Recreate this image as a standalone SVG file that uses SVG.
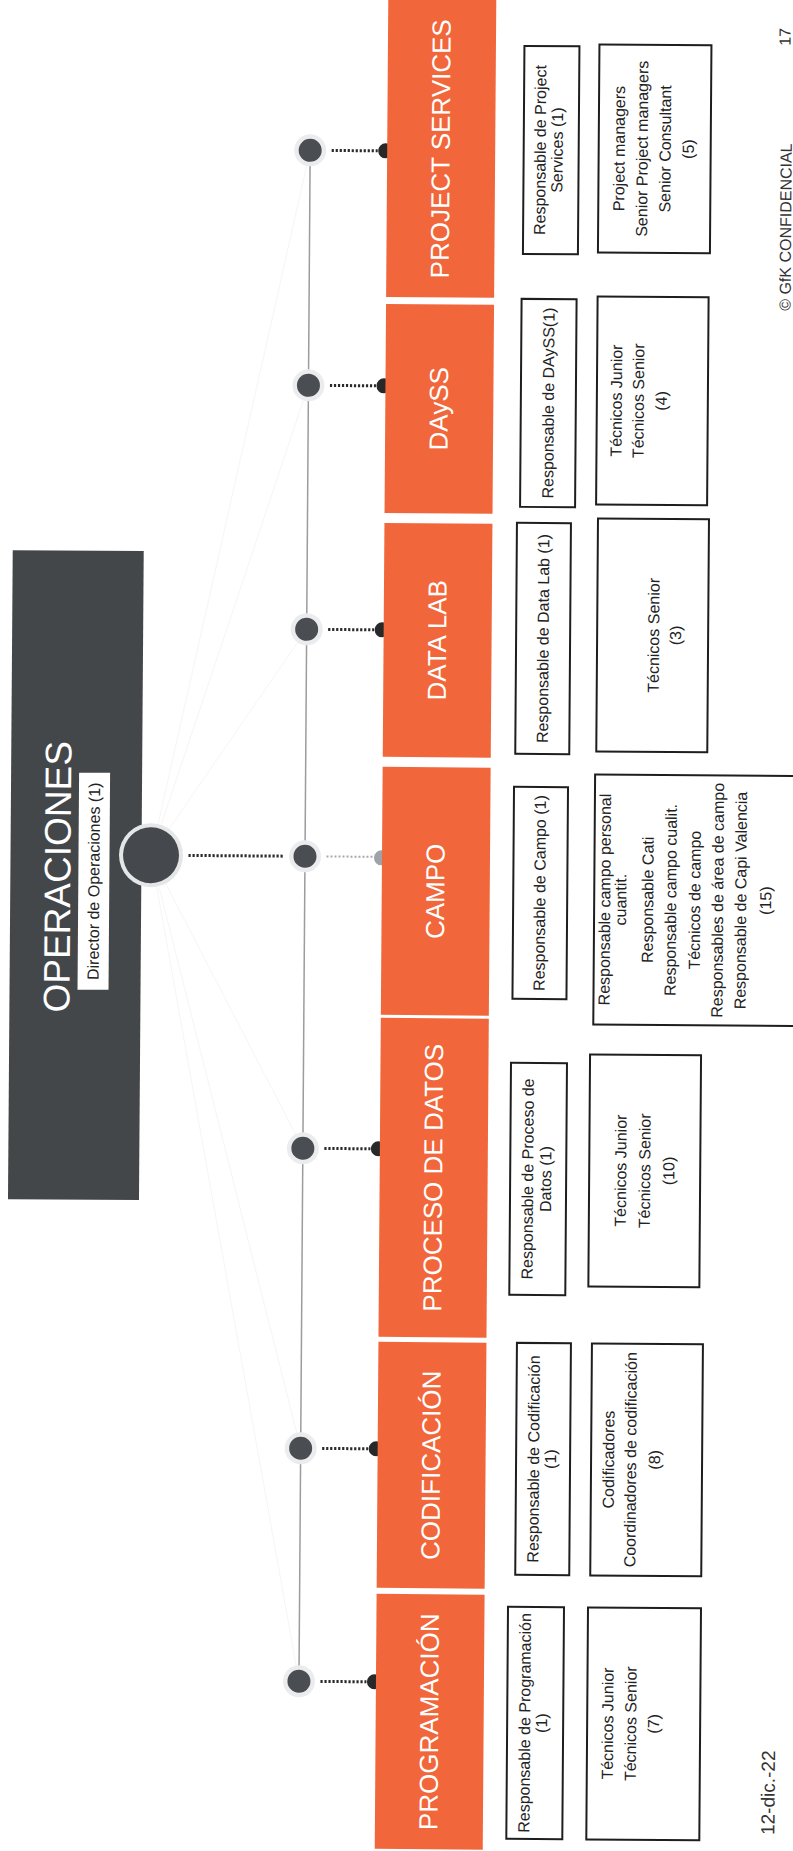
<svg xmlns="http://www.w3.org/2000/svg" width="793" height="1851" viewBox="0 0 793 1851">
<style>
.bar{fill:#f1673b}
.bl{font-family:"Liberation Sans",Arial,sans-serif;font-size:26px;fill:#ffffff;text-anchor:middle}
.box{fill:#ffffff;stroke:#1e1e1e;stroke-width:2}
.bt{font-family:"Liberation Sans",Arial,sans-serif;font-size:16px;fill:#222222;text-anchor:middle}
.dl{fill:none;stroke:#2a2a2a;stroke-width:3;stroke-dasharray:2.2 1.8}
.dlg{fill:none;stroke:#a4a9ae;stroke-width:2;stroke-dasharray:2 2}
.halo{fill:#eaecee}
.node{fill:#4a4d51}
.end{fill:#26282a}
.fan{stroke:#f3f3f3;stroke-width:0.8;fill:none}
.foot{font-family:"Liberation Sans",Arial,sans-serif;fill:#333333}
</style>
<rect x="0" y="0" width="793" height="1851" fill="#ffffff"/>
<g transform="rotate(0.42 400 925)">
  <g id="connectors">
    <line class="fan" x1="150.5" y1="857" x2="304.5" y2="151"/>
    <line class="fan" x1="150.5" y1="857" x2="304.5" y2="386"/>
    <line class="fan" x1="150.5" y1="857" x2="304.5" y2="630"/>
    <line class="fan" x1="150.5" y1="857" x2="304.5" y2="1149"/>
    <line class="fan" x1="150.5" y1="857" x2="304.5" y2="1449"/>
    <line class="fan" x1="150.5" y1="857" x2="304.5" y2="1682"/>
    <line x1="304.5" y1="151" x2="304.5" y2="1682" stroke="#9c9c9c" stroke-width="1.5"/>
    <line class="dl" x1="188" y1="857" x2="284" y2="857" stroke-width="3.5"/>
    <line class="dl" x1="326" y1="151" x2="372" y2="151"/>
    <line class="dl" x1="326" y1="386" x2="372" y2="386"/>
    <line class="dl" x1="326" y1="630" x2="372" y2="630"/>
    <line class="dlg" x1="326" y1="857" x2="372" y2="857"/>
    <line class="dl" x1="326" y1="1149" x2="372" y2="1149"/>
    <line class="dl" x1="326" y1="1449" x2="372" y2="1449"/>
    <line class="dl" x1="326" y1="1682" x2="372" y2="1682"/>
  </g>

  <g id="operaciones">
    <rect x="10" y="553" width="131" height="649" fill="#44474a"/>
    <text transform="translate(70,1015) rotate(-90)" font-family="'Liberation Sans',Arial,sans-serif" font-size="37" fill="#ffffff">OPERACIONES</text>
    <rect x="78" y="775" width="31" height="217" fill="#ffffff"/>
    <text class="bt" transform="translate(99,883.5) rotate(-90)" fill="#111111">Director de Operaciones (1)</text>
    <circle cx="150.5" cy="857" r="32" fill="#e4e6e8"/>
    <circle cx="150.5" cy="857" r="28" fill="#45484c"/>
  </g>

  <g id="nodes">
    <g id="n-ps"><circle class="halo" cx="304.5" cy="151" r="16"/><circle class="node" cx="304.5" cy="151" r="11.5"/><circle class="end" cx="380" cy="151" r="7.5"/></g>
    <g id="n-dayss"><circle class="halo" cx="304.5" cy="386" r="16"/><circle class="node" cx="304.5" cy="386" r="11.5"/><circle class="end" cx="380" cy="386" r="7.5"/></g>
    <g id="n-datalab"><circle class="halo" cx="304.5" cy="630" r="16"/><circle class="node" cx="304.5" cy="630" r="11.5"/><circle class="end" cx="380" cy="630" r="7.5"/></g>
    <g id="n-campo"><circle class="halo" cx="304.5" cy="857" r="16"/><circle class="node" cx="304.5" cy="857" r="11.5"/><circle cx="381" cy="858" r="7.5" fill="#9da3a9"/></g>
    <g id="n-proceso"><circle class="halo" cx="304.5" cy="1149" r="16"/><circle class="node" cx="304.5" cy="1149" r="11.5"/><circle class="end" cx="380" cy="1149" r="7.5"/></g>
    <g id="n-codif"><circle class="halo" cx="304.5" cy="1449" r="16"/><circle class="node" cx="304.5" cy="1449" r="11.5"/><circle class="end" cx="380" cy="1449" r="7.5"/></g>
    <g id="n-prog"><circle class="halo" cx="304.5" cy="1682" r="16"/><circle class="node" cx="304.5" cy="1682" r="11.5"/><circle class="end" cx="380" cy="1682" r="7.5"/></g>
  </g>

  <g id="project-services">
    <rect class="bar" x="381.5" y="-6" width="108" height="303"/>
    <text class="bl" transform="translate(381.5,148.5) rotate(-90)" y="62.5">PROJECT SERVICES</text>
    <rect class="box" x="518" y="45" width="55" height="208"/>
    <text class="bt" transform="translate(518,149) rotate(-90)"><tspan x="0" y="22">Responsable de Project</tspan><tspan x="0" y="39">Services (1)</tspan></text>
    <rect class="box" x="593" y="43" width="112" height="208"/>
    <text class="bt" transform="translate(593,147) rotate(-90)"><tspan x="0" y="26">Project managers</tspan><tspan x="0" y="49">Senior Project managers</tspan><tspan x="0" y="72">Senior Consultant</tspan><tspan x="0" y="95">(5)</tspan></text>
  </g>

  <g id="dayss">
    <rect class="bar" x="381.5" y="304" width="108" height="209"/>
    <text class="bl" transform="translate(381.5,408.5) rotate(-90)" y="62.5">DAySS</text>
    <rect class="box" x="517" y="298" width="55" height="208"/>
    <text class="bt" transform="translate(517,402) rotate(-90)" y="33">Responsable de DAySS(1)</text>
    <rect class="box" x="593" y="295" width="111" height="208"/>
    <text class="bt" transform="translate(593,399) rotate(-90)"><tspan x="0" y="25">Técnicos Junior</tspan><tspan x="0" y="47">Técnicos Senior</tspan><tspan x="0" y="70">(4)</tspan></text>
  </g>

  <g id="data-lab">
    <rect class="bar" x="381.5" y="523" width="108" height="234"/>
    <text class="bl" transform="translate(381.5,640) rotate(-90)" y="62.5">DATA LAB</text>
    <rect class="box" x="514" y="522" width="54" height="231"/>
    <text class="bt" transform="translate(514,637.5) rotate(-90)" y="32.5">Responsable de Data Lab (1)</text>
    <rect class="box" x="595" y="517" width="111" height="233"/>
    <text class="bt" transform="translate(595,633.5) rotate(-90)"><tspan x="0" y="62">Técnicos Senior</tspan><tspan x="0" y="84">(3)</tspan></text>
  </g>

  <g id="campo">
    <rect class="bar" x="381.5" y="767" width="108" height="248"/>
    <text class="bl" transform="translate(381.5,891) rotate(-90)" y="62.5">CAMPO</text>
    <rect class="box" x="513" y="786" width="54" height="212"/>
    <text class="bt" transform="translate(513,892) rotate(-90)" y="32">Responsable de Campo (1)</text>
    <rect class="box" x="594" y="773" width="240" height="250"/>
    <text class="bt" transform="translate(594,898) rotate(-90)"><tspan x="0" y="16">Responsable campo personal</tspan><tspan x="0" y="32">cuantit.</tspan><tspan x="0" y="59">Responsable Cati</tspan><tspan x="0" y="82">Responsable campo cualit.</tspan><tspan x="0" y="106">Técnicos de campo</tspan><tspan x="0" y="129">Responsables de área de campo</tspan><tspan x="0" y="152">Responsable de Capi Valencia</tspan><tspan x="0" y="177">(15)</tspan></text>
  </g>

  <g id="proceso-de-datos">
    <rect class="bar" x="381.5" y="1018" width="108" height="319"/>
    <text class="bl" transform="translate(381.5,1177.5) rotate(-90)" y="62.5">PROCESO DE DATOS</text>
    <rect class="box" x="512" y="1062" width="56" height="232"/>
    <text class="bt" transform="translate(512,1178) rotate(-90)"><tspan x="0" y="23">Responsable de Proceso de</tspan><tspan x="0" y="41">Datos (1)</tspan></text>
    <rect class="box" x="591" y="1053" width="111" height="232"/>
    <text class="bt" transform="translate(591,1169) rotate(-90)"><tspan x="0" y="37">Técnicos Junior</tspan><tspan x="0" y="61">Técnicos Senior</tspan><tspan x="0" y="85">(10)</tspan></text>
  </g>

  <g id="codificacion">
    <rect class="bar" x="381.5" y="1342" width="108" height="246"/>
    <text class="bl" transform="translate(381.5,1465) rotate(-90)" y="62.5">CODIFICACIÓN</text>
    <rect class="box" x="520" y="1342" width="54" height="232"/>
    <text class="bt" transform="translate(520,1458) rotate(-90)"><tspan x="0" y="23">Responsable de Codificación</tspan><tspan x="0" y="40">(1)</tspan></text>
    <rect class="box" x="595" y="1342" width="111" height="232"/>
    <text class="bt" transform="translate(595,1458) rotate(-90)"><tspan x="0" y="23">Codificadores</tspan><tspan x="0" y="45">Coordinadores de codificación</tspan><tspan x="0" y="69">(8)</tspan></text>
  </g>

  <g id="programacion">
    <rect class="bar" x="381.5" y="1594" width="108" height="255"/>
    <text class="bl" transform="translate(381.5,1721.5) rotate(-90)" y="62.5">PROGRAMACIÓN</text>
    <rect class="box" x="513" y="1606" width="56" height="232"/>
    <text class="bt" transform="translate(513,1722) rotate(-90)"><tspan x="0" y="23">Responsable de Programación</tspan><tspan x="0" y="40">(1)</tspan></text>
    <rect class="box" x="593" y="1606" width="113" height="232"/>
    <text class="bt" transform="translate(593,1722) rotate(-90)"><tspan x="0" y="26">Técnicos Junior</tspan><tspan x="0" y="49">Técnicos Senior</tspan><tspan x="0" y="72">(7)</tspan></text>
  </g>

  <g id="footer">
    <text class="foot" transform="translate(781,1790) rotate(-90)" font-size="19" text-anchor="middle">12-dic.-22</text>
    <text class="foot" transform="translate(786,308) rotate(-90)" font-size="16">© GfK CONFIDENCIAL</text>
    <text class="foot" transform="translate(784,43) rotate(-90)" font-size="16">17</text>
  </g>
</g>
</svg>
